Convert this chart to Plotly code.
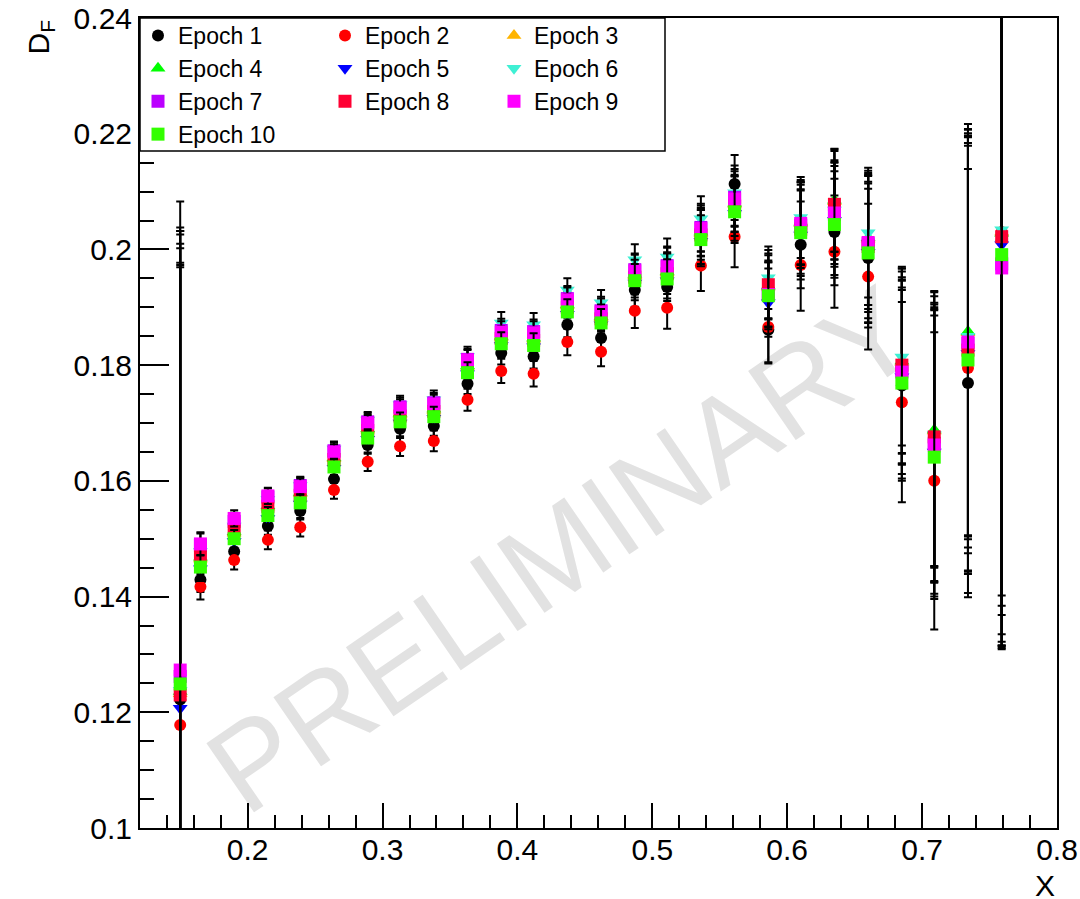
import plotly.graph_objects as go

# ---------------- data ----------------
x_vals = [0.150, 0.165, 0.190, 0.215, 0.239, 0.264, 0.289, 0.313, 0.338, 0.363, 0.388, 0.412, 0.437,
          0.462, 0.487, 0.511, 0.536, 0.561, 0.586, 0.610, 0.635, 0.660, 0.685, 0.709, 0.734, 0.759]

epoch1 = [.1222, .1429, .1478, .1522, .1548, .1603, .1662, .1690, .1695, .1768, .1821, .1815, .1870,
          .1847, .1930, .1935, .2030, .2113, .1861, .2008, .2030, .1985, .1765, .1650, .1769, .2015]
epoch2 = [.1178, .1417, .1463, .1498, .1520, .1584, .1633, .1660, .1669, .1740, .1790, .1785, .1840,
          .1823, .1894, .1899, .1972, .2022, .1866, .1973, .1996, .1953, .1736, .1600, .1795, .2030]
epoch3 = [.1232, .1465, .1510, .1555, .1578, .1638, .1688, .1715, .1722, .1797, .1848, .1845, .1903,
          .1882, .1955, .1960, .2028, .2078, .1935, .2045, .2083, .2018, .1805, .1686, .1856, .2030]
epoch4 = [.1236, .1468, .1512, .1557, .1580, .1640, .1690, .1717, .1724, .1799, .1850, .1847, .1905,
          .1884, .1957, .1962, .2030, .2080, .1937, .2047, .2085, .2020, .1807, .1688, .1858, .2028]
epoch5 = [.1207, .1448, .1495, .1535, .1560, .1622, .1672, .1700, .1708, .1785, .1834, .1832, .1888,
          .1870, .1942, .1946, .2014, .2062, .1908, .2025, .2050, .1995, .1780, .1650, .1820, .2008]
epoch6 = [.1238, .1478, .1522, .1568, .1592, .1655, .1705, .1732, .1740, .1815, .1873, .1870, .1930,
          .1908, .1982, .1987, .2053, .2098, .1951, .2055, .2068, .2029, .1814, .1680, .1850, .2034]
epoch7 = [.1262, .1488, .1530, .1572, .1592, .1652, .1702, .1728, .1735, .1810, .1860, .1858, .1915,
          .1894, .1965, .1972, .2038, .2090, .1924, .2042, .2060, .2010, .1790, .1665, .1838, .1975]
epoch8 = [.1230, .1472, .1515, .1556, .1575, .1637, .1687, .1712, .1720, .1796, .1846, .1843, .1900,
          .1880, .1952, .1958, .2025, .2075, .1939, .2035, .2078, .2005, .1800, .1676, .1826, .2022]
epoch9 = [.1273, .1491, .1535, .1574, .1590, .1650, .1700, .1726, .1733, .1809, .1857, .1856, .1913,
          .1892, .1963, .1970, .2036, .2087, .1922, .2045, .2063, .2012, .1788, .1662, .1840, .1968]
epoch10 = [.1249, .1451, .1500, .1540, .1562, .1624, .1674, .1702, .1711, .1787, .1837, .1834, .1892,
           .1873, .1946, .1949, .2017, .2065, .1920, .2029, .2043, .1994, .1769, .1641, .1809, .1991]

err1 = [0.081, 0.0021, 0.0015, 0.0015, 0.0015, 0.0014, 0.0015, 0.0016, 0.0017, 0.0018, 0.0020, 0.0021, 0.0022,
        0.0024, 0.0029, 0.0034, 0.0042, 0.0050, 0.0058, 0.0075, 0.0092, 0.0120, 0.0165, 0.0245, 0.0370, 0.0680]
err2 = [0.086, 0.0022, 0.0016, 0.0016, 0.0016, 0.0015, 0.0016, 0.0017, 0.0018, 0.0019, 0.0021, 0.0022, 0.0023,
        0.0025, 0.0030, 0.0036, 0.0044, 0.0053, 0.0061, 0.0079, 0.0097, 0.0126, 0.0173, 0.0257, 0.0389, 0.0714]
err3 = [0.080, 0.0020, 0.0014, 0.0014, 0.0014, 0.0013, 0.0014, 0.0015, 0.0016, 0.0017, 0.0019, 0.0020, 0.0021,
        0.0023, 0.0028, 0.0032, 0.0040, 0.0048, 0.0055, 0.0071, 0.0087, 0.0114, 0.0157, 0.0233, 0.0352, 0.0646]
err4 = [0.079, 0.0020, 0.0015, 0.0015, 0.0015, 0.0014, 0.0015, 0.0016, 0.0016, 0.0017, 0.0019, 0.0020, 0.0021,
        0.0023, 0.0028, 0.0033, 0.0041, 0.0049, 0.0056, 0.0073, 0.0089, 0.0116, 0.0160, 0.0238, 0.0359, 0.0660]
err5 = [0.077, 0.0021, 0.0015, 0.0015, 0.0015, 0.0014, 0.0015, 0.0016, 0.0017, 0.0018, 0.0020, 0.0021, 0.0022,
        0.0024, 0.0030, 0.0035, 0.0043, 0.0051, 0.0059, 0.0077, 0.0094, 0.0122, 0.0168, 0.0250, 0.0377, 0.0694]
err6 = [0.0845, 0.0020, 0.0014, 0.0014, 0.0014, 0.0013, 0.0014, 0.0015, 0.0016, 0.0017, 0.0019, 0.0020, 0.0020,
        0.0022, 0.0027, 0.0032, 0.0039, 0.0047, 0.0054, 0.0070, 0.0086, 0.0112, 0.0153, 0.0228, 0.0344, 0.0632]
err7 = [0.074, 0.0021, 0.0015, 0.0015, 0.0015, 0.0014, 0.0015, 0.0016, 0.0017, 0.0018, 0.0020, 0.0021, 0.0022,
        0.0024, 0.0028, 0.0033, 0.0041, 0.0049, 0.0057, 0.0074, 0.0090, 0.0118, 0.0162, 0.0240, 0.0363, 0.0666]
err8 = [0.078, 0.0022, 0.0015, 0.0015, 0.0015, 0.0014, 0.0015, 0.0016, 0.0018, 0.0019, 0.0021, 0.0022, 0.0023,
        0.0025, 0.0030, 0.0035, 0.0043, 0.0052, 0.0060, 0.0077, 0.0095, 0.0124, 0.0170, 0.0252, 0.0381, 0.0700]
err9 = [0.070, 0.0020, 0.0014, 0.0014, 0.0014, 0.0013, 0.0014, 0.0015, 0.0016, 0.0017, 0.0019, 0.0020, 0.0021,
        0.0023, 0.0028, 0.0033, 0.0040, 0.0048, 0.0056, 0.0072, 0.0088, 0.0115, 0.0158, 0.0235, 0.0355, 0.0653]
err10 = [0.072, 0.0021, 0.0015, 0.0015, 0.0015, 0.0014, 0.0015, 0.0016, 0.0017, 0.0018, 0.0020, 0.0021, 0.0022,
         0.0024, 0.0029, 0.0034, 0.0042, 0.0050, 0.0058, 0.0075, 0.0092, 0.0120, 0.0165, 0.0245, 0.0370, 0.0680]

epoch_names = ["Epoch 1", "Epoch 2", "Epoch 3", "Epoch 4", "Epoch 5",
               "Epoch 6", "Epoch 7", "Epoch 8", "Epoch 9", "Epoch 10"]
epoch_values = [epoch1, epoch2, epoch3, epoch4, epoch5, epoch6, epoch7, epoch8, epoch9, epoch10]
epoch_errors = [err1, err2, err3, err4, err5, err6, err7, err8, err9, err10]

x_tick_vals = [0.2, 0.3, 0.4, 0.5, 0.6, 0.7, 0.8]
y_tick_vals = [0.1, 0.12, 0.14, 0.16, 0.18, 0.2, 0.22, 0.24]

# ---------------- style ----------------
colors = ["#000000", "#ff0000", "#ffb400", "#00ff00", "#0000ff",
          "#3ff0d4", "#bb00ff", "#ff0033", "#ff00ff", "#33ff00"]
symbols = ["circle", "circle", "triangle-up", "triangle-up", "triangle-down",
           "triangle-down", "square", "square", "square", "square"]
sizes = [12, 12, 13, 13, 13, 13, 13, 13, 13, 13]
legend_ids = ["legend", "legend2", "legend3", "legend", "legend2",
              "legend3", "legend", "legend2", "legend3", "legend"]

FONT = "Liberation Sans, Arial, Helvetica, sans-serif"

fig = go.Figure()
for name, vals, errs, col, sym, sz, lg in zip(epoch_names, epoch_values, epoch_errors,
                                             colors, symbols, sizes, legend_ids):
    fig.add_trace(go.Scatter(
        x=x_vals, y=vals, mode="markers", name=name, legend=lg,
        marker=dict(color=col, symbol=sym, size=sz, line=dict(width=0)),
        error_y=dict(type="data", array=errs, visible=True, color="#000000",
                     thickness=2, width=4),
        cliponaxis=True,
    ))

W, H = 1080, 899
ML, MR, MT, MB = 140, 23, 18, 71
pw = W - ML - MR
ph = H - MT - MB

def px_x(p):
    return (p - ML) / pw

def px_y(p):
    return (H - MB - p) / ph

legend_common = dict(
    font=dict(family=FONT, size=23, color="#000000"),
    bgcolor="rgba(0,0,0,0)", borderwidth=0,
    yanchor="top", xanchor="left", orientation="v",
    itemwidth=30, tracegroupgap=0, y=px_y(14),
)

fig.update_layout(
    template="none",
    width=W, height=H,
    margin=dict(l=ML, r=MR, t=MT, b=MB, pad=0, autoexpand=False),
    paper_bgcolor="white", plot_bgcolor="white",
    font=dict(family=FONT, color="#000000"),
    showlegend=True,
    legend=dict(x=px_x(138), **legend_common),
    legend2=dict(x=px_x(325), **legend_common),
    legend3=dict(x=px_x(494), **legend_common),
    xaxis=dict(
        range=[0.1202, 0.8], tickvals=x_tick_vals, ticktext=[f"{v:g}" for v in x_tick_vals],
        ticks="inside", ticklen=25, tickwidth=1.5, tickcolor="#000000",
        minor=dict(ticks="inside", ticklen=13, dtick=0.02, tick0=0.0, tickwidth=1.5,
                   tickcolor="#000000", showgrid=False),
        showline=True, linecolor="#000000", linewidth=2, mirror=True,
        showgrid=False, zeroline=False, automargin=False, ticklabelstandoff=-6,
        tickfont=dict(family=FONT, size=30, color="#000000"),
    ),
    yaxis=dict(
        range=[0.1, 0.24], tickvals=y_tick_vals, ticktext=[f"{v:g}" for v in y_tick_vals],
        ticks="inside", ticklen=29, tickwidth=1.5, tickcolor="#000000",
        minor=dict(ticks="inside", ticklen=14, dtick=0.005, tick0=0.0, tickwidth=1.5,
                   tickcolor="#000000", showgrid=False),
        showline=True, linecolor="#000000", linewidth=2, mirror=True,
        showgrid=False, zeroline=False, automargin=False,
        tickfont=dict(family=FONT, size=30, color="#000000"),
    ),
    shapes=[
        # PRELIMINARY watermark (behind data)
        dict(type="rect", xref="paper", yref="paper",
             x0=px_x(505), x1=px_x(605), y0=px_y(590), y1=px_y(490),
             line=dict(width=0), fillcolor="rgba(0,0,0,0)", layer="below",
             label=dict(text="PRELIMINARY", textangle=-34.5, textposition="middle center",
                        font=dict(family=FONT, size=122, color="#e2e2e2"))),
        # legend box
        dict(type="rect", xref="paper", yref="paper",
             x0=0, x1=px_x(665), y0=px_y(151), y1=1,
             line=dict(width=1.5, color="#000000"), fillcolor="white", layer="above"),
    ],
    annotations=[
        dict(text="D<sub>F</sub>", xref="paper", yref="paper",
             x=px_x(40), y=1.0, xanchor="center", yanchor="top", textangle=-90,
             showarrow=False, font=dict(family=FONT, size=30, color="#000000")),
        dict(text="X", xref="paper", yref="paper",
             x=1.0, y=px_y(885), xanchor="right", yanchor="middle",
             showarrow=False, font=dict(family=FONT, size=30, color="#000000")),
    ],
)

fig.write_html("out.html")
